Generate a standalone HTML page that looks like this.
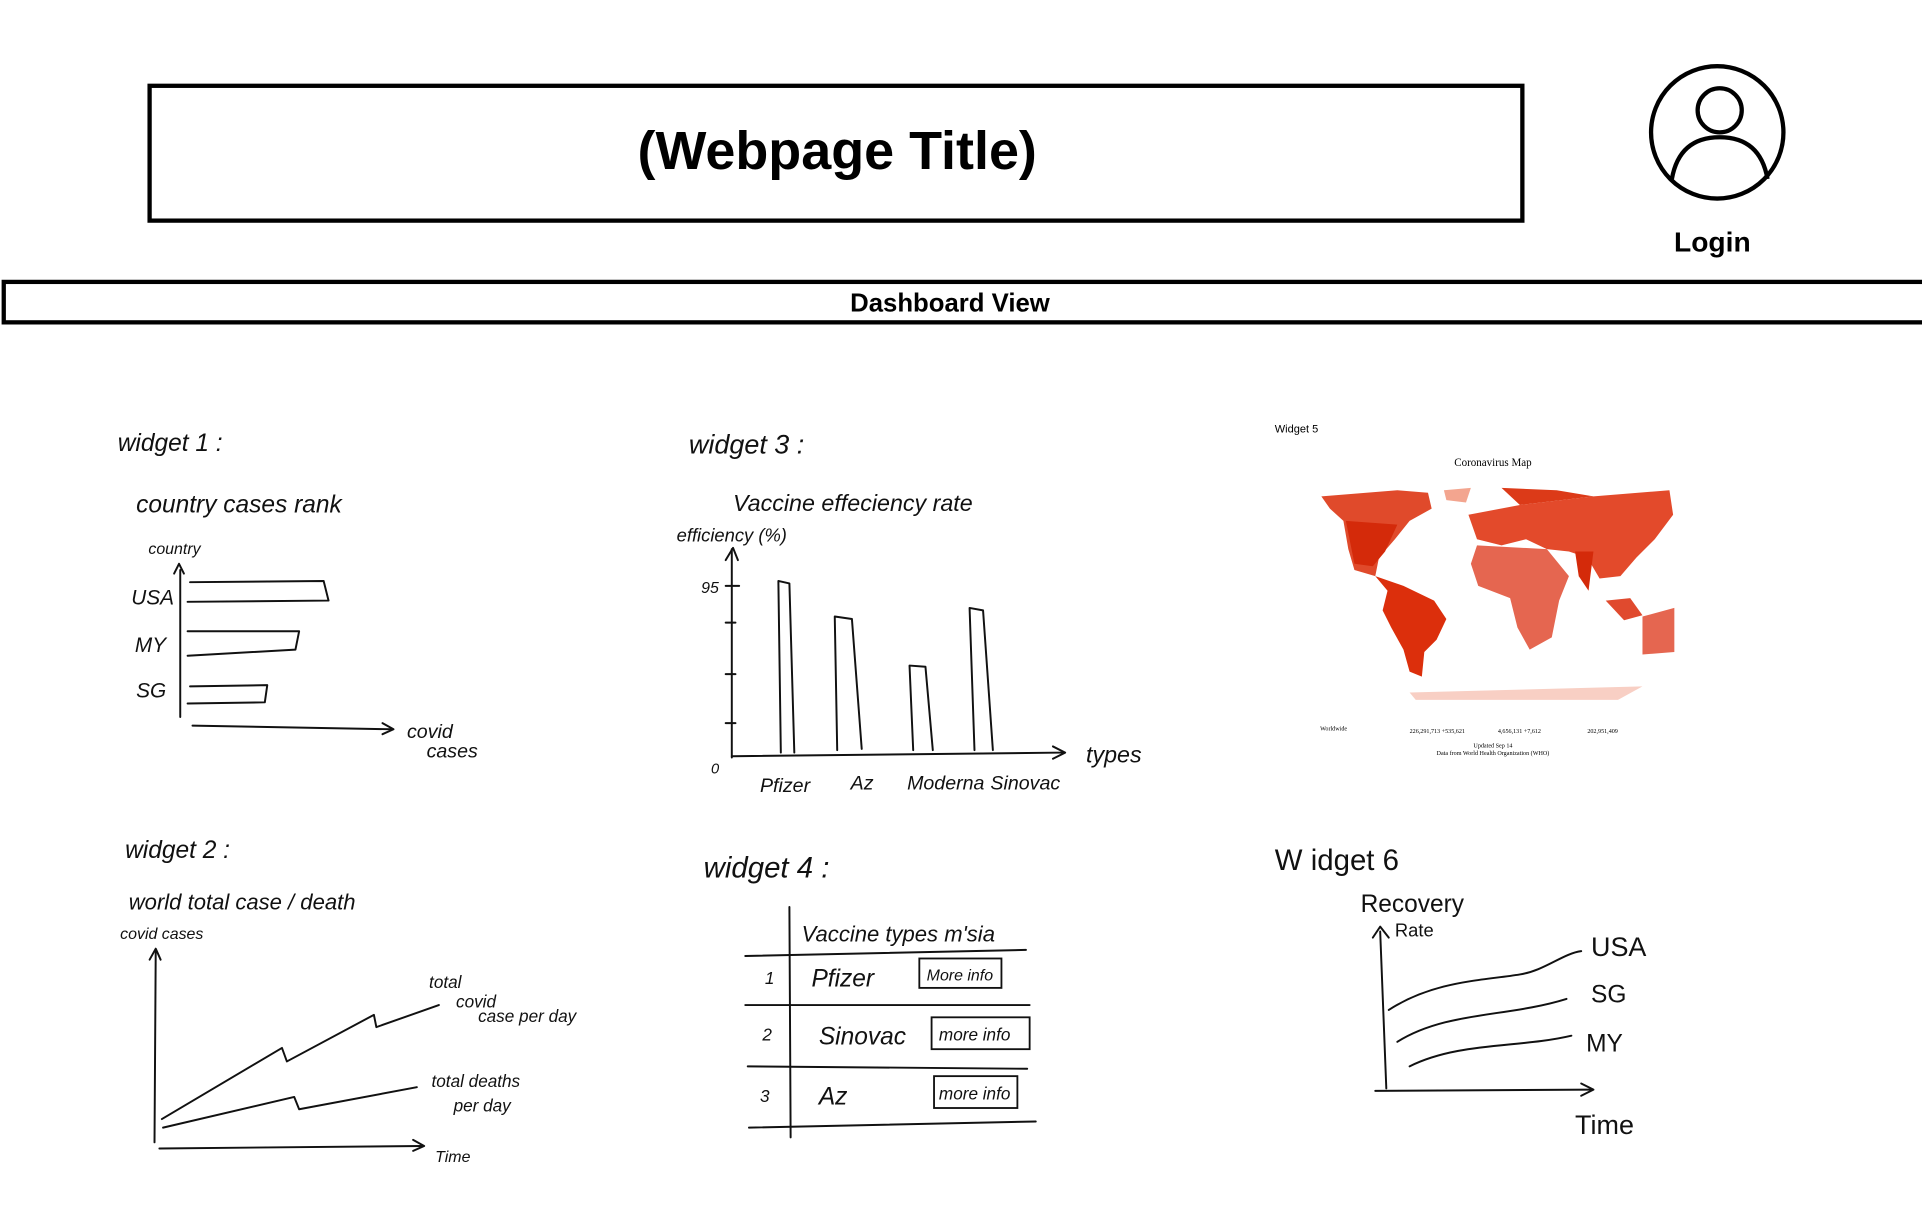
<!DOCTYPE html>
<html><head><meta charset="utf-8"><style>
html,body{margin:0;padding:0;background:#fff;}
svg{display:block}
.h{font-family:"Liberation Sans",sans-serif;font-style:italic;fill:#111;}
.l path,.l polyline,.l line{fill:none;stroke:#111;stroke-width:1.6;stroke-linecap:round;stroke-linejoin:round}
.m path{stroke:none}
</style></head><body>
<svg width="1922" height="1222" viewBox="0 0 1568 997" xmlns="http://www.w3.org/2000/svg">
<rect x="122" y="70" width="1120" height="110" fill="none" stroke="#000" stroke-width="3.5"/>
<text x="683" y="138" text-anchor="middle" font-family="Liberation Sans,sans-serif" font-weight="bold" font-size="44">(Webpage Title)</text>
<circle cx="1401" cy="108" r="54" fill="none" stroke="#000" stroke-width="3.5"/>
<circle cx="1403" cy="90" r="18" fill="none" stroke="#000" stroke-width="3.5"/>
<path d="M1364 146 Q1370 112 1403 112 Q1436 112 1442 146" fill="none" stroke="#000" stroke-width="3.5"/>
<text x="1397" y="205" text-anchor="middle" font-family="Liberation Sans,sans-serif" font-weight="bold" font-size="23">Login</text>
<rect x="3" y="230" width="1570" height="33" fill="none" stroke="#000" stroke-width="3.5"/>
<text x="775" y="254" text-anchor="middle" font-family="Liberation Sans,sans-serif" font-weight="bold" font-size="21">Dashboard View</text>

<g class="l">
<!-- widget 1 -->
<text class="h" x="96" y="368" font-size="20">widget 1 :</text>
<text class="h" x="111" y="418" font-size="20">country  cases  rank</text>
<text class="h" x="121" y="452" font-size="13">country</text>
<text class="h" x="107" y="493" font-size="17">USA</text>
<text class="h" x="110" y="532" font-size="17">MY</text>
<text class="h" x="111" y="569" font-size="17">SG</text>
<path d="M147 465 L147 585"/><path d="M142 468 L146 460 L150 468"/>
<path d="M155 475 L264 474 L268 490 L153 491"/>
<path d="M153 515 L244 515 L241 530 L153 535"/>
<path d="M155 560 L218 559 L216 573 L153 574"/>
<path d="M157 592 L320 595"/><path d="M312 590 L321 595 L312 599"/>
<text class="h" x="332" y="602" font-size="16">covid</text>
<text class="h" x="348" y="618" font-size="16">cases</text>

<!-- widget 2 -->
<text class="h" x="102" y="700" font-size="20">widget 2 :</text>
<text class="h" x="105" y="742" font-size="18">world  total  case  / death</text>
<text class="h" x="98" y="766" font-size="13">covid cases</text>
<path d="M127 775 L126 932"/><path d="M122 783 L127 774 L131 783"/>
<path d="M130 937 L345 935"/><path d="M337 930 L346 935 L337 939"/>
<text class="h" x="355" y="948" font-size="13">Time</text>
<path d="M132 913 L230 855 L234 866 L305 828 L307 838 L358 820"/>
<path d="M133 920 L240 895 L244 905 L340 887"/>
<text class="h" x="350" y="806" font-size="14">total</text>
<text class="h" x="372" y="822" font-size="14">covid</text>
<text class="h" x="390" y="834" font-size="14">case   per day</text>
<text class="h" x="352" y="887" font-size="14">total  deaths</text>
<text class="h" x="370" y="907" font-size="14">per day</text>

<!-- widget 3 -->
<text class="h" x="562" y="370" font-size="22">widget 3 :</text>
<text class="h" x="598" y="417" font-size="19">Vaccine  effeciency rate</text>
<text class="h" x="552" y="442" font-size="15">efficiency (%)</text>
<text class="h" x="572" y="484" font-size="13">95</text>
<text class="h" x="580" y="631" font-size="12">0</text>
<path d="M597 448 L597 618"/><path d="M592 457 L598 447 L602 457"/>
<path d="M592 478 L603 478 M592 508 L600 508 M592 550 L600 550 M592 590 L600 590"/>
<path d="M597 617 L868 614"/><path d="M859 609 L869 614 L859 619"/>
<path d="M637 614 L635 474 L644 476 L648 614"/>
<path d="M683 612 L681 503 L695 505 L703 611"/>
<path d="M745 612 L742 543 L755 544 L761 612"/>
<path d="M795 612 L791 496 L802 498 L810 612"/>
<text class="h" x="620" y="646" font-size="16">Pfizer</text>
<text class="h" x="694" y="644" font-size="16">Az</text>
<text class="h" x="740" y="644" font-size="16">Moderna</text>
<text class="h" x="808" y="644" font-size="16">Sinovac</text>
<text class="h" x="886" y="622" font-size="19">types</text>

<!-- widget 4 -->
<text class="h" x="574" y="716" font-size="24">widget 4 :</text>
<path d="M644 740 L645 928"/>
<path d="M608 780 L837 775 M608 820 L840 820 M610 870 L838 872 M611 920 L845 915"/>
<text class="h" x="654" y="768" font-size="18">Vaccine  types  m'sia</text>
<text class="h" x="624" y="803" font-size="14">1</text>
<text class="h" x="662" y="805" font-size="20">Pfizer</text>
<rect x="750" y="782" width="67" height="24" fill="none" stroke="#111" stroke-width="1.5"/>
<text class="h" x="756" y="800" font-size="13">More info</text>
<text class="h" x="622" y="849" font-size="14">2</text>
<text class="h" x="668" y="852" font-size="20">Sinovac</text>
<rect x="760" y="830" width="80" height="26" fill="none" stroke="#111" stroke-width="1.5"/>
<text class="h" x="766" y="849" font-size="14">more  info</text>
<text class="h" x="620" y="899" font-size="14">3</text>
<text class="h" x="668" y="901" font-size="20">Az</text>
<rect x="762" y="878" width="68" height="26" fill="none" stroke="#111" stroke-width="1.5"/>
<text class="h" x="766" y="897" font-size="14">more info</text>

<!-- widget 6 -->
<text class="h" x="1040" y="710" font-size="24" style="font-style:normal">W idget 6</text>
<text class="h" x="1110" y="744" font-size="20" style="font-style:normal">Recovery</text>
<text class="h" x="1138" y="764" font-size="15" style="font-style:normal">Rate</text>
<path d="M1126 760 L1131 888"/><path d="M1120 765 L1126 756 L1133 765"/>
<path d="M1122 890 L1298 889"/><path d="M1290 884 L1300 889 L1290 894"/>
<path d="M1133 824 C1170 800 1210 800 1240 795 C1260 792 1275 778 1290 776"/>
<path d="M1140 850 C1180 825 1230 830 1278 815"/>
<path d="M1150 870 C1190 850 1240 855 1282 845"/>
<text class="h" x="1298" y="780" font-size="22" style="font-style:normal">USA</text>
<text class="h" x="1298" y="818" font-size="20" style="font-style:normal">SG</text>
<text class="h" x="1294" y="858" font-size="20" style="font-style:normal">MY</text>
<text class="h" x="1285" y="925" font-size="22" style="font-style:normal">Time</text>
</g>

<!-- widget 5 -->
<text x="1040" y="353" font-family="Liberation Sans,sans-serif" font-size="9">Widget 5</text>
<text x="1218" y="380" text-anchor="middle" font-family="Liberation Serif,serif" font-size="9">Coronavirus Map</text>
<g class="m">
<path d="M1078 405 L1140 400 L1165 402 L1168 415 L1150 425 L1138 440 L1125 455 L1122 470 L1105 465 L1100 448 L1096 425 L1085 415 Z" fill="#e04a2b"/>
<path d="M1098 425 L1140 428 L1130 450 L1120 462 L1105 460 Z" fill="#d42a0a"/>
<path d="M1122 470 L1145 478 L1170 490 L1180 505 L1172 522 L1162 532 L1160 552 L1150 548 L1145 530 L1135 512 L1128 498 L1132 482 Z" fill="#dc2f0c"/>
<path d="M1178 400 L1200 398 L1196 410 L1180 408 Z" fill="#f3a58f"/>
<path d="M1198 420 L1240 412 L1300 405 L1362 400 L1365 420 L1350 440 L1335 455 L1322 470 L1305 472 L1295 455 L1280 450 L1262 448 L1245 440 L1225 445 L1205 440 Z" fill="#e34a2b"/>
<path d="M1225 398 L1270 400 L1300 405 L1240 412 Z" fill="#dc3a18"/>
<path d="M1205 445 L1262 448 L1280 470 L1272 490 L1266 520 L1248 530 L1238 512 L1232 488 L1206 478 L1200 460 Z" fill="#e56650"/>
<path d="M1285 450 L1300 450 L1296 482 L1288 470 Z" fill="#d42a0a"/>
<path d="M1310 490 L1330 488 L1340 502 L1325 506 Z" fill="#e04a2e"/>
<path d="M1340 503 L1366 496 L1366 532 L1340 534 Z" fill="#e56650"/>
<path d="M1150 565 L1340 560 L1320 571 L1155 571 Z" fill="#f8cfc4"/>
</g>
<g font-family="Liberation Serif,serif" font-size="5">
<text x="1077" y="596">Worldwide</text>
<text x="1150" y="598">226,291,713 +535,621</text>
<text x="1222" y="598">4,656,131 +7,612</text>
<text x="1295" y="598">202,951,409</text>
<text x="1218" y="610" text-anchor="middle">Updated Sep 14</text>
<text x="1218" y="616" text-anchor="middle">Data from World Health Organization (WHO)</text>
</g>
</svg>
</body></html>
